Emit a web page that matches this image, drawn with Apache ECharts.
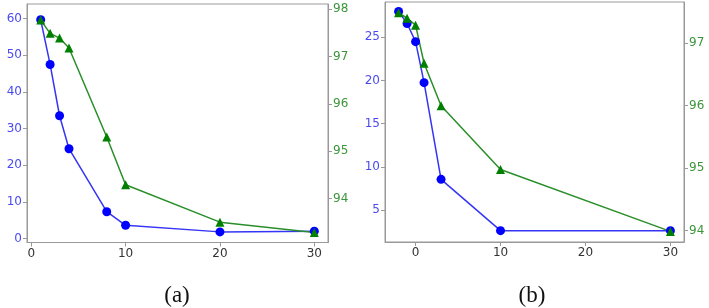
<!DOCTYPE html>
<html><head><meta charset="utf-8">
<script src="https://cdn.jsdelivr.net/npm/echarts@6/dist/echarts.min.js"></script>
<style>html,body{margin:0;padding:0;background:#fff}#c{width:709px;height:308px}</style>
</head><body><div id="c"></div>
<script>
// Panel (a)
const aX = [1, 2, 3, 4, 8, 10, 20, 30];
const aBlue = [59.7, 47.5, 33.5, 24.5, 7.3, 3.6, 1.8, 2.0];
const aGreen = [97.77, 97.49, 97.39, 97.18, 95.30, 94.29, 93.50, 93.28];
const aXTicks = [0, 10, 20, 30];
const aLeftTicks = [0, 10, 20, 30, 40, 50, 60];
const aRightTicks = [94, 95, 96, 97, 98];
// Panel (b)
const bX = [-2, -1, 0, 1, 3, 10, 30];
const bBlue = [28.0, 26.6, 24.5, 19.75, 8.55, 2.6, 2.6];
const bGreen = [97.49, 97.40, 97.29, 96.68, 96.0, 94.98, 93.99];
const bXTicks = [0, 10, 20, 30];
const bLeftTicks = [5, 10, 15, 20, 25];
const bRightTicks = [94, 95, 96, 97];
const captions = ['(a)', '(b)'];

const FRAME = '#999';
const BLUE_LBL = '#4a4af2';
const GREEN_LBL = '#3b963b';
const FONT = 'DejaVu Sans';

function xAxis(gi, min, max, ticks) {
  return {
    type: 'value', gridIndex: gi, min: min, max: max,
    splitLine: { show: false },
    axisLine: { show: true, onZero: false, lineStyle: { color: FRAME, width: 1 } },
    axisTick: { show: true, length: 4, lineStyle: { color: FRAME }, customValues: ticks },
    axisLabel: { customValues: ticks, color: '#333', fontSize: 12, fontFamily: FONT, margin: 5 }
  };
}
function yAxis(gi, pos, min, max, ticks, color) {
  return {
    type: 'value', gridIndex: gi, position: pos, min: min, max: max,
    splitLine: { show: false },
    axisLine: { show: true, onZero: false, lineStyle: { color: FRAME, width: 1 } },
    axisTick: { show: true, length: 4, lineStyle: { color: FRAME }, customValues: ticks },
    axisLabel: { customValues: ticks, color: color, fontSize: 12, fontFamily: FONT, margin: 5 }
  };
}
function pairs(xs, ys) { return xs.map((x, i) => [x, ys[i]]); }

const chart = echarts.init(document.getElementById('c'), null, { renderer: 'canvas' });
chart.setOption({
  animation: false,
  backgroundColor: '#fff',
  grid: [
    { left: 27, top: 4, width: 301, height: 238.5, show: true, borderColor: FRAME, borderWidth: 1 },
    { left: 385, top: 2, width: 299, height: 240, show: true, borderColor: FRAME, borderWidth: 1 }
  ],
  xAxis: [
    xAxis(0, -0.45, 31.45, aXTicks),
    xAxis(1, -3.6, 31.6, bXTicks)
  ],
  yAxis: [
    yAxis(0, 'left', -1.1, 64.0, aLeftTicks, BLUE_LBL),
    yAxis(0, 'right', 93.07, 98.11, aRightTicks, GREEN_LBL),
    yAxis(1, 'left', 1.29, 29.09, bLeftTicks, BLUE_LBL),
    yAxis(1, 'right', 93.82, 97.66, bRightTicks, GREEN_LBL)
  ],
  series: [
    { type: 'line', xAxisIndex: 0, yAxisIndex: 0, data: pairs(aX, aBlue), symbol: 'circle', symbolSize: 9,
      lineStyle: { color: '#3535f5', width: 1.5 }, itemStyle: { color: '#0000ff' } },
    { type: 'line', xAxisIndex: 0, yAxisIndex: 1, data: pairs(aX, aGreen), symbol: 'triangle', symbolSize: 9,
      lineStyle: { color: '#2a8f2a', width: 1.5 }, itemStyle: { color: '#008000' } },
    { type: 'line', xAxisIndex: 1, yAxisIndex: 2, data: pairs(bX, bBlue), symbol: 'circle', symbolSize: 9,
      lineStyle: { color: '#3535f5', width: 1.5 }, itemStyle: { color: '#0000ff' } },
    { type: 'line', xAxisIndex: 1, yAxisIndex: 3, data: pairs(bX, bGreen), symbol: 'triangle', symbolSize: 9,
      lineStyle: { color: '#2a8f2a', width: 1.5 }, itemStyle: { color: '#008000' } }
  ],
  graphic: [
    { type: 'text', x: 177, y: 296, style: { text: captions[0], font: '23px "Liberation Serif"', fill: '#111', align: 'center', verticalAlign: 'middle' } },
    { type: 'text', x: 532, y: 296, style: { text: captions[1], font: '23px "Liberation Serif"', fill: '#111', align: 'center', verticalAlign: 'middle' } }
  ]
});
</script></body></html>
